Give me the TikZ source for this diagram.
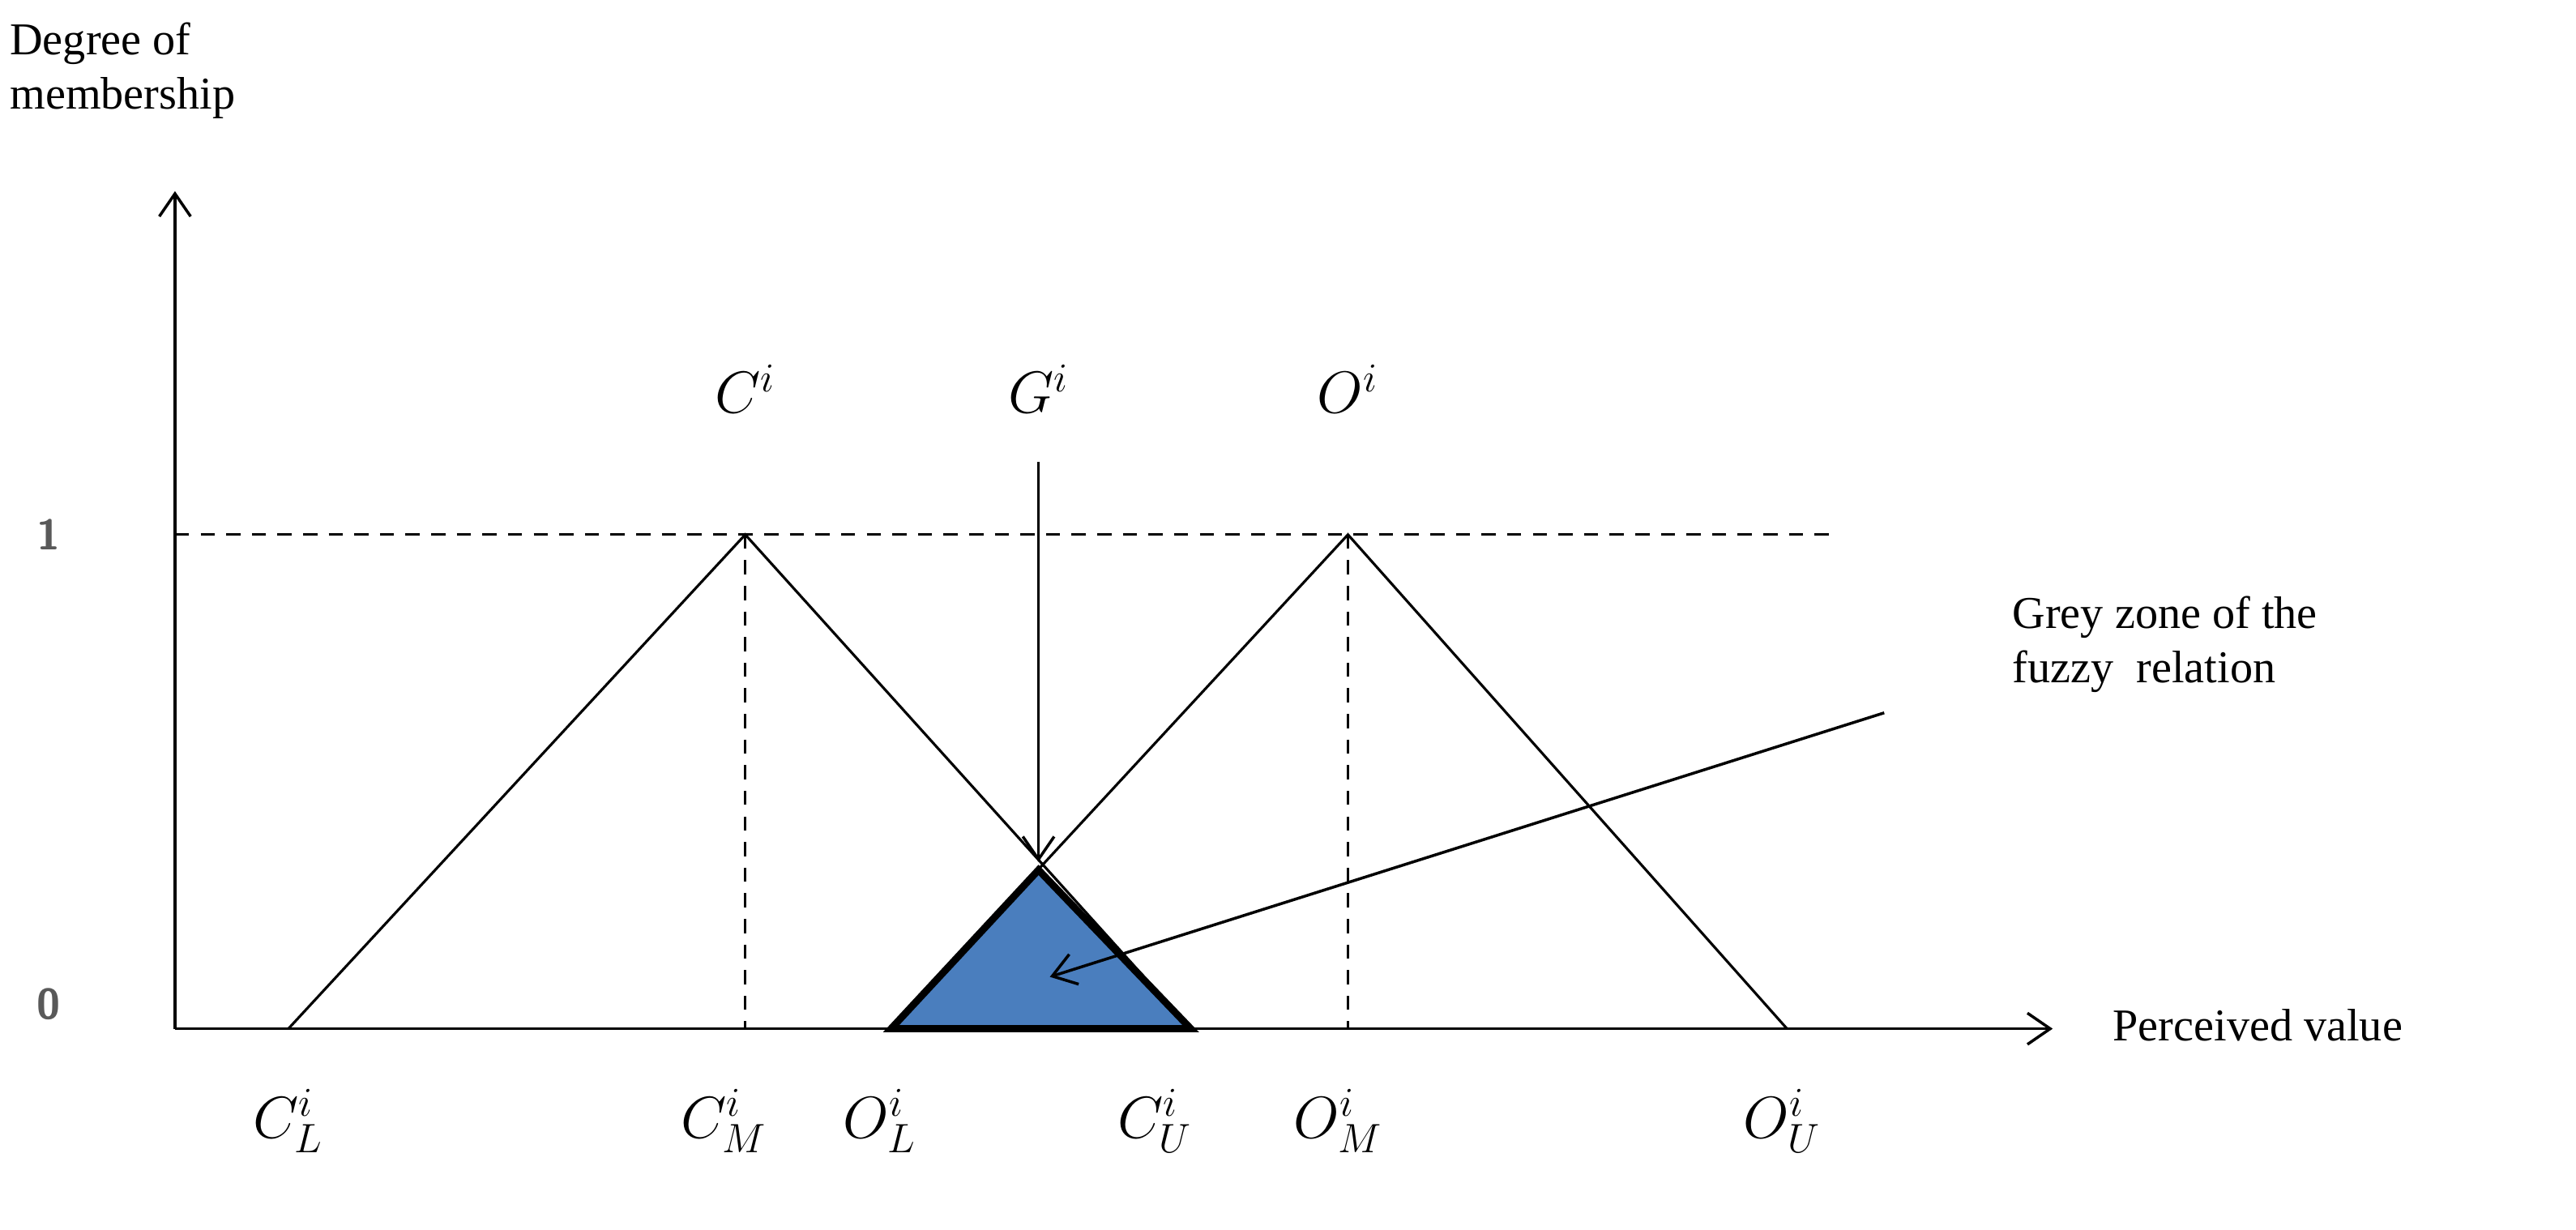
\documentclass[tikz,border=0pt]{standalone}
\usepackage{fontspec}
\setmainfont{Liberation Serif}
\usetikzlibrary{arrows.meta}
\begin{document}
\begin{tikzpicture}[x=0.02cm,y=-0.02cm,
  ln/.style={line width=0.9pt},
  dsh/.style={line width=0.9pt,dash pattern=on 5pt off 4pt},
  arr/.style={line width=1pt,-{Straight Barb[length=8pt,width=11pt]}},
  txt/.style={font=\fontsize{16}{19}\selectfont,align=left},
  mth/.style={font=\fontsize{21}{24}\selectfont},
  num/.style={font=\sffamily\bfseries\fontsize{15}{18}\selectfont,text=black!65}]
\useasboundingbox (0,0) rectangle (1590,759);
\coordinate (O) at (108,635);
\coordinate (Ytop) at (108,118);
\coordinate (Xend) at (1267,635);
\coordinate (CL) at (178,635);
\coordinate (CM) at (460,330);
\coordinate (CU) at (735,635);
\coordinate (OL) at (550,635);
\coordinate (OM) at (832,330);
\coordinate (OU) at (1103,635);
\coordinate (X) at (641,537);
\coordinate (CMb) at (460,635);
\coordinate (OMb) at (832,635);
\coordinate (D1) at (108,330);
\coordinate (D2) at (1130,330);
\fill[fill={rgb,255:red,74;green,126;blue,190}] (OL) -- (X) -- (CU) -- cycle;
\draw[dsh] (D1) -- (D2);
\draw[dsh] (CM) -- (CMb);
\draw[dsh] (OM) -- (OMb);
\draw[ln] (CL) -- (CM) -- (CU);
\draw[ln] (OL) -- (OM) -- (OU);
\draw[line width=2.5pt,line join=miter] (OL) -- (X) -- (CU) -- cycle;
\draw[arr] (O) -- (Ytop);
\draw[arr] (O) -- (Xend);
\coordinate (Gs) at (641,285);
\coordinate (Ge) at (641,532);
\draw[arr] (Gs) -- (Ge);
\coordinate (Zs) at (1163,440);
\coordinate (Ze) at (648,603);
\draw[arr] (Zs) -- (Ze);
\node[mth] (lc) at (460,240) {$C^i$};
\node[mth] (lg) at (641,240) {$G^i$};
\node[mth] (lo) at (832,240) {$O^i$};
\node[num] (n1) at (30,330) {1};
\node[num] (n0) at (30,620) {0};
\node[mth] (b1) at (178,692) {$C^i_L$};
\node[mth] (b2) at (447,692) {$C^i_M$};
\node[mth] (b3) at (543,692) {$O^i_L$};
\node[mth] (b4) at (713,692) {$C^i_U$};
\node[mth] (b5) at (826,692) {$O^i_M$};
\node[mth] (b6) at (1100,692) {$O^i_U$};
\node[txt,anchor=west] (pv) at (1298,633) {Perceived value};
\node[txt,anchor=north west] (gz) at (1236,362) {Grey zone of the\\fuzzy\ \ relation};
\node[txt,anchor=north west] (dm) at (0,8) {Degree of\\membership};
\end{tikzpicture}
\end{document}
